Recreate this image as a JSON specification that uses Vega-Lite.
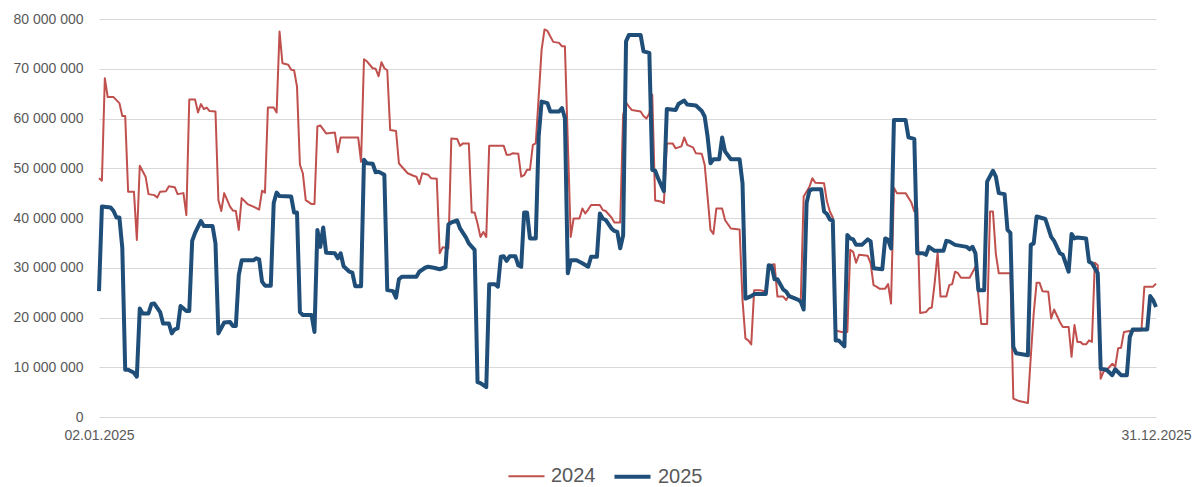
{
  "$schema": "https://vega.github.io/schema/vega-lite/v6.json",
  "autosize": {"type": "none"},
  "width": 1057,
  "height": 398,
  "padding": {"left": 99, "top": 19, "right": 37, "bottom": 70},
  "background": "white",
  "config": {
    "view": {"stroke": null},
    "font": "Liberation Sans",
    "axis": {"labelFont": "Liberation Sans", "labelColor": "#595959", "labelFontSize": 14},
    "legend": {"labelFont": "Liberation Sans"}
  },
  "data": {
    "values": [
      {"day":2,"year":"2024","value":48000000},{"day":3,"year":"2024","value":47500000},{"day":4,"year":"2024","value":68100000},{"day":5,"year":"2024","value":64300000},{"day":7,"year":"2024","value":64300000},{"day":9,"year":"2024","value":63100000},{"day":10,"year":"2024","value":60500000},{"day":11,"year":"2024","value":60500000},{"day":12,"year":"2024","value":45300000},{"day":14,"year":"2024","value":45300000},{"day":15,"year":"2024","value":35600000},{"day":16,"year":"2024","value":50500000},{"day":18,"year":"2024","value":48300000},{"day":19,"year":"2024","value":44800000},{"day":21,"year":"2024","value":44600000},{"day":22,"year":"2024","value":44100000},{"day":23,"year":"2024","value":45300000},{"day":25,"year":"2024","value":45400000},{"day":26,"year":"2024","value":46400000},{"day":28,"year":"2024","value":46200000},{"day":29,"year":"2024","value":44800000},{"day":31,"year":"2024","value":45000000},{"day":32,"year":"2024","value":40600000},{"day":33,"year":"2024","value":63800000},{"day":35,"year":"2024","value":63800000},{"day":36,"year":"2024","value":61200000},{"day":37,"year":"2024","value":62900000},{"day":38,"year":"2024","value":61900000},{"day":39,"year":"2024","value":62200000},{"day":40,"year":"2024","value":61500000},{"day":42,"year":"2024","value":61400000},{"day":43,"year":"2024","value":43600000},{"day":44,"year":"2024","value":41400000},{"day":45,"year":"2024","value":45000000},{"day":47,"year":"2024","value":42300000},{"day":48,"year":"2024","value":41500000},{"day":49,"year":"2024","value":41400000},{"day":50,"year":"2024","value":37600000},{"day":51,"year":"2024","value":44000000},{"day":53,"year":"2024","value":42800000},{"day":55,"year":"2024","value":42300000},{"day":57,"year":"2024","value":41700000},{"day":58,"year":"2024","value":45500000},{"day":59,"year":"2024","value":45100000},{"day":60,"year":"2024","value":62200000},{"day":62,"year":"2024","value":62200000},{"day":63,"year":"2024","value":61200000},{"day":64,"year":"2024","value":77500000},{"day":65,"year":"2024","value":71100000},{"day":67,"year":"2024","value":70800000},{"day":68,"year":"2024","value":69800000},{"day":69,"year":"2024","value":69700000},{"day":70,"year":"2024","value":66400000},{"day":71,"year":"2024","value":50700000},{"day":72,"year":"2024","value":49000000},{"day":73,"year":"2024","value":43600000},{"day":75,"year":"2024","value":42800000},{"day":76,"year":"2024","value":42800000},{"day":77,"year":"2024","value":58400000},{"day":78,"year":"2024","value":58600000},{"day":80,"year":"2024","value":57000000},{"day":83,"year":"2024","value":57200000},{"day":84,"year":"2024","value":53200000},{"day":85,"year":"2024","value":56200000},{"day":91,"year":"2024","value":56200000},{"day":92,"year":"2024","value":51300000},{"day":93,"year":"2024","value":71900000},{"day":94,"year":"2024","value":71500000},{"day":96,"year":"2024","value":70100000},{"day":97,"year":"2024","value":70000000},{"day":98,"year":"2024","value":68500000},{"day":99,"year":"2024","value":71300000},{"day":100,"year":"2024","value":70100000},{"day":101,"year":"2024","value":69700000},{"day":102,"year":"2024","value":57700000},{"day":104,"year":"2024","value":57500000},{"day":105,"year":"2024","value":51000000},{"day":106,"year":"2024","value":50300000},{"day":108,"year":"2024","value":49000000},{"day":110,"year":"2024","value":48500000},{"day":111,"year":"2024","value":48300000},{"day":112,"year":"2024","value":46800000},{"day":113,"year":"2024","value":49000000},{"day":115,"year":"2024","value":48700000},{"day":116,"year":"2024","value":48000000},{"day":118,"year":"2024","value":47900000},{"day":119,"year":"2024","value":32900000},{"day":120,"year":"2024","value":34100000},{"day":122,"year":"2024","value":33900000},{"day":123,"year":"2024","value":56000000},{"day":125,"year":"2024","value":55900000},{"day":126,"year":"2024","value":54500000},{"day":127,"year":"2024","value":55000000},{"day":129,"year":"2024","value":55000000},{"day":130,"year":"2024","value":41100000},{"day":131,"year":"2024","value":41100000},{"day":132,"year":"2024","value":38900000},{"day":133,"year":"2024","value":36200000},{"day":134,"year":"2024","value":37200000},{"day":135,"year":"2024","value":36200000},{"day":136,"year":"2024","value":54500000},{"day":141,"year":"2024","value":54500000},{"day":142,"year":"2024","value":52700000},{"day":143,"year":"2024","value":52700000},{"day":144,"year":"2024","value":53000000},{"day":146,"year":"2024","value":52900000},{"day":147,"year":"2024","value":48300000},{"day":148,"year":"2024","value":48600000},{"day":149,"year":"2024","value":49700000},{"day":150,"year":"2024","value":49700000},{"day":151,"year":"2024","value":54700000},{"day":152,"year":"2024","value":55000000},{"day":154,"year":"2024","value":73800000},{"day":155,"year":"2024","value":77900000},{"day":156,"year":"2024","value":77600000},{"day":158,"year":"2024","value":75400000},{"day":160,"year":"2024","value":75200000},{"day":161,"year":"2024","value":74500000},{"day":162,"year":"2024","value":74500000},{"day":164,"year":"2024","value":36200000},{"day":165,"year":"2024","value":39900000},{"day":167,"year":"2024","value":39900000},{"day":168,"year":"2024","value":41900000},{"day":169,"year":"2024","value":40900000},{"day":170,"year":"2024","value":41700000},{"day":171,"year":"2024","value":42600000},{"day":174,"year":"2024","value":42600000},{"day":175,"year":"2024","value":41600000},{"day":176,"year":"2024","value":41400000},{"day":178,"year":"2024","value":40100000},{"day":179,"year":"2024","value":39100000},{"day":181,"year":"2024","value":39100000},{"day":182,"year":"2024","value":60700000},{"day":183,"year":"2024","value":63200000},{"day":184,"year":"2024","value":62400000},{"day":185,"year":"2024","value":61700000},{"day":188,"year":"2024","value":61400000},{"day":189,"year":"2024","value":60500000},{"day":190,"year":"2024","value":60000000},{"day":191,"year":"2024","value":61000000},{"day":192,"year":"2024","value":64800000},{"day":193,"year":"2024","value":43500000},{"day":195,"year":"2024","value":43300000},{"day":196,"year":"2024","value":43000000},{"day":197,"year":"2024","value":55000000},{"day":199,"year":"2024","value":55000000},{"day":200,"year":"2024","value":54000000},{"day":202,"year":"2024","value":54400000},{"day":203,"year":"2024","value":56200000},{"day":204,"year":"2024","value":54700000},{"day":206,"year":"2024","value":54200000},{"day":207,"year":"2024","value":53000000},{"day":209,"year":"2024","value":52900000},{"day":210,"year":"2024","value":50700000},{"day":211,"year":"2024","value":44300000},{"day":212,"year":"2024","value":37600000},{"day":213,"year":"2024","value":36800000},{"day":214,"year":"2024","value":41900000},{"day":216,"year":"2024","value":41900000},{"day":217,"year":"2024","value":39600000},{"day":219,"year":"2024","value":37900000},{"day":222,"year":"2024","value":37700000},{"day":223,"year":"2024","value":23500000},{"day":224,"year":"2024","value":15800000},{"day":225,"year":"2024","value":15400000},{"day":226,"year":"2024","value":14600000},{"day":227,"year":"2024","value":25500000},{"day":229,"year":"2024","value":25500000},{"day":231,"year":"2024","value":25200000},{"day":232,"year":"2024","value":30500000},{"day":234,"year":"2024","value":30700000},{"day":235,"year":"2024","value":24200000},{"day":237,"year":"2024","value":24200000},{"day":238,"year":"2024","value":23500000},{"day":239,"year":"2024","value":24500000},{"day":241,"year":"2024","value":24000000},{"day":243,"year":"2024","value":23200000},{"day":244,"year":"2024","value":44300000},{"day":246,"year":"2024","value":46300000},{"day":247,"year":"2024","value":48000000},{"day":248,"year":"2024","value":47100000},{"day":251,"year":"2024","value":47000000},{"day":252,"year":"2024","value":43300000},{"day":253,"year":"2024","value":41300000},{"day":254,"year":"2024","value":40100000},{"day":255,"year":"2024","value":17400000},{"day":257,"year":"2024","value":17100000},{"day":259,"year":"2024","value":17100000},{"day":260,"year":"2024","value":33600000},{"day":261,"year":"2024","value":33200000},{"day":262,"year":"2024","value":31000000},{"day":263,"year":"2024","value":32600000},{"day":266,"year":"2024","value":32400000},{"day":267,"year":"2024","value":30900000},{"day":268,"year":"2024","value":26500000},{"day":269,"year":"2024","value":26200000},{"day":270,"year":"2024","value":25800000},{"day":272,"year":"2024","value":25800000},{"day":273,"year":"2024","value":26700000},{"day":274,"year":"2024","value":22800000},{"day":275,"year":"2024","value":46100000},{"day":276,"year":"2024","value":45000000},{"day":279,"year":"2024","value":45000000},{"day":281,"year":"2024","value":43100000},{"day":282,"year":"2024","value":41300000},{"day":283,"year":"2024","value":42000000},{"day":284,"year":"2024","value":20900000},{"day":286,"year":"2024","value":21100000},{"day":287,"year":"2024","value":21800000},{"day":288,"year":"2024","value":22000000},{"day":289,"year":"2024","value":27000000},{"day":290,"year":"2024","value":33000000},{"day":291,"year":"2024","value":24200000},{"day":293,"year":"2024","value":24200000},{"day":294,"year":"2024","value":26500000},{"day":295,"year":"2024","value":26700000},{"day":296,"year":"2024","value":29200000},{"day":297,"year":"2024","value":28900000},{"day":298,"year":"2024","value":28000000},{"day":301,"year":"2024","value":28000000},{"day":303,"year":"2024","value":30200000},{"day":305,"year":"2024","value":18700000},{"day":307,"year":"2024","value":18700000},{"day":308,"year":"2024","value":41300000},{"day":309,"year":"2024","value":41300000},{"day":310,"year":"2024","value":32800000},{"day":311,"year":"2024","value":28900000},{"day":315,"year":"2024","value":28900000},{"day":316,"year":"2024","value":3700000},{"day":318,"year":"2024","value":3200000},{"day":321,"year":"2024","value":2800000},{"day":322,"year":"2024","value":12100000},{"day":323,"year":"2024","value":20800000},{"day":324,"year":"2024","value":27000000},{"day":325,"year":"2024","value":27000000},{"day":326,"year":"2024","value":25300000},{"day":328,"year":"2024","value":25200000},{"day":329,"year":"2024","value":19800000},{"day":330,"year":"2024","value":21600000},{"day":332,"year":"2024","value":19100000},{"day":333,"year":"2024","value":18100000},{"day":335,"year":"2024","value":18100000},{"day":336,"year":"2024","value":12100000},{"day":337,"year":"2024","value":18500000},{"day":338,"year":"2024","value":15100000},{"day":339,"year":"2024","value":15100000},{"day":340,"year":"2024","value":14600000},{"day":341,"year":"2024","value":14600000},{"day":342,"year":"2024","value":15400000},{"day":343,"year":"2024","value":15100000},{"day":344,"year":"2024","value":31000000},{"day":345,"year":"2024","value":30500000},{"day":346,"year":"2024","value":7700000},{"day":347,"year":"2024","value":9100000},{"day":348,"year":"2024","value":9400000},{"day":350,"year":"2024","value":10700000},{"day":351,"year":"2024","value":10100000},{"day":352,"year":"2024","value":13800000},{"day":353,"year":"2024","value":13900000},{"day":354,"year":"2024","value":17100000},{"day":356,"year":"2024","value":17300000},{"day":360,"year":"2024","value":17400000},{"day":361,"year":"2024","value":26200000},{"day":364,"year":"2024","value":26200000},{"day":365,"year":"2024","value":26800000},
      {"day":2,"year":"2025","value":25300000},{"day":3,"year":"2025","value":42300000},{"day":6,"year":"2025","value":42100000},{"day":7,"year":"2025","value":41400000},{"day":8,"year":"2025","value":40100000},{"day":9,"year":"2025","value":40100000},{"day":10,"year":"2025","value":34000000},{"day":11,"year":"2025","value":9500000},{"day":12,"year":"2025","value":9500000},{"day":14,"year":"2025","value":8900000},{"day":15,"year":"2025","value":8100000},{"day":16,"year":"2025","value":21800000},{"day":17,"year":"2025","value":20800000},{"day":19,"year":"2025","value":20800000},{"day":20,"year":"2025","value":22700000},{"day":21,"year":"2025","value":22800000},{"day":23,"year":"2025","value":21100000},{"day":24,"year":"2025","value":18800000},{"day":26,"year":"2025","value":18800000},{"day":27,"year":"2025","value":16800000},{"day":28,"year":"2025","value":17600000},{"day":29,"year":"2025","value":17800000},{"day":30,"year":"2025","value":22300000},{"day":32,"year":"2025","value":21300000},{"day":33,"year":"2025","value":21300000},{"day":34,"year":"2025","value":35400000},{"day":35,"year":"2025","value":37000000},{"day":37,"year":"2025","value":39400000},{"day":38,"year":"2025","value":38400000},{"day":41,"year":"2025","value":38400000},{"day":42,"year":"2025","value":34900000},{"day":43,"year":"2025","value":16800000},{"day":45,"year":"2025","value":19000000},{"day":47,"year":"2025","value":19100000},{"day":48,"year":"2025","value":18300000},{"day":49,"year":"2025","value":18300000},{"day":50,"year":"2025","value":28500000},{"day":51,"year":"2025","value":31500000},{"day":55,"year":"2025","value":31500000},{"day":56,"year":"2025","value":31900000},{"day":57,"year":"2025","value":31700000},{"day":58,"year":"2025","value":27200000},{"day":59,"year":"2025","value":26400000},{"day":61,"year":"2025","value":26400000},{"day":62,"year":"2025","value":43000000},{"day":63,"year":"2025","value":45100000},{"day":64,"year":"2025","value":44400000},{"day":68,"year":"2025","value":44300000},{"day":69,"year":"2025","value":41100000},{"day":70,"year":"2025","value":41100000},{"day":71,"year":"2025","value":21100000},{"day":72,"year":"2025","value":20500000},{"day":75,"year":"2025","value":20500000},{"day":76,"year":"2025","value":17100000},{"day":77,"year":"2025","value":37600000},{"day":78,"year":"2025","value":34200000},{"day":79,"year":"2025","value":38100000},{"day":80,"year":"2025","value":33000000},{"day":83,"year":"2025","value":32900000},{"day":84,"year":"2025","value":31900000},{"day":85,"year":"2025","value":32900000},{"day":86,"year":"2025","value":30300000},{"day":88,"year":"2025","value":29200000},{"day":89,"year":"2025","value":29000000},{"day":90,"year":"2025","value":26300000},{"day":92,"year":"2025","value":26300000},{"day":93,"year":"2025","value":51700000},{"day":94,"year":"2025","value":51000000},{"day":96,"year":"2025","value":50900000},{"day":97,"year":"2025","value":49200000},{"day":98,"year":"2025","value":49300000},{"day":99,"year":"2025","value":49000000},{"day":100,"year":"2025","value":48700000},{"day":101,"year":"2025","value":25500000},{"day":103,"year":"2025","value":25300000},{"day":104,"year":"2025","value":24000000},{"day":105,"year":"2025","value":27700000},{"day":106,"year":"2025","value":28200000},{"day":111,"year":"2025","value":28200000},{"day":112,"year":"2025","value":29200000},{"day":114,"year":"2025","value":30000000},{"day":115,"year":"2025","value":30200000},{"day":117,"year":"2025","value":30000000},{"day":119,"year":"2025","value":29700000},{"day":121,"year":"2025","value":30100000},{"day":122,"year":"2025","value":38700000},{"day":123,"year":"2025","value":39100000},{"day":125,"year":"2025","value":39500000},{"day":126,"year":"2025","value":37900000},{"day":128,"year":"2025","value":36100000},{"day":129,"year":"2025","value":34900000},{"day":131,"year":"2025","value":33600000},{"day":132,"year":"2025","value":7000000},{"day":133,"year":"2025","value":6800000},{"day":134,"year":"2025","value":6400000},{"day":135,"year":"2025","value":6000000},{"day":136,"year":"2025","value":26700000},{"day":138,"year":"2025","value":26700000},{"day":139,"year":"2025","value":26200000},{"day":140,"year":"2025","value":32200000},{"day":141,"year":"2025","value":32300000},{"day":142,"year":"2025","value":31400000},{"day":143,"year":"2025","value":32300000},{"day":145,"year":"2025","value":32300000},{"day":146,"year":"2025","value":30500000},{"day":147,"year":"2025","value":30200000},{"day":148,"year":"2025","value":41100000},{"day":149,"year":"2025","value":41100000},{"day":150,"year":"2025","value":35900000},{"day":152,"year":"2025","value":35900000},{"day":153,"year":"2025","value":56400000},{"day":154,"year":"2025","value":63400000},{"day":156,"year":"2025","value":63100000},{"day":157,"year":"2025","value":61400000},{"day":160,"year":"2025","value":61400000},{"day":161,"year":"2025","value":62100000},{"day":162,"year":"2025","value":60100000},{"day":163,"year":"2025","value":28900000},{"day":164,"year":"2025","value":31500000},{"day":166,"year":"2025","value":31500000},{"day":168,"year":"2025","value":30900000},{"day":170,"year":"2025","value":30200000},{"day":171,"year":"2025","value":32200000},{"day":173,"year":"2025","value":32200000},{"day":174,"year":"2025","value":40900000},{"day":175,"year":"2025","value":39900000},{"day":176,"year":"2025","value":39600000},{"day":178,"year":"2025","value":37900000},{"day":179,"year":"2025","value":37400000},{"day":180,"year":"2025","value":37200000},{"day":181,"year":"2025","value":33900000},{"day":182,"year":"2025","value":36500000},{"day":183,"year":"2025","value":75500000},{"day":184,"year":"2025","value":76800000},{"day":188,"year":"2025","value":76800000},{"day":189,"year":"2025","value":73500000},{"day":191,"year":"2025","value":73200000},{"day":192,"year":"2025","value":49700000},{"day":193,"year":"2025","value":49500000},{"day":194,"year":"2025","value":48000000},{"day":196,"year":"2025","value":45400000},{"day":197,"year":"2025","value":61900000},{"day":200,"year":"2025","value":61700000},{"day":201,"year":"2025","value":62900000},{"day":203,"year":"2025","value":63600000},{"day":204,"year":"2025","value":62800000},{"day":207,"year":"2025","value":62600000},{"day":209,"year":"2025","value":61500000},{"day":210,"year":"2025","value":60400000},{"day":211,"year":"2025","value":56400000},{"day":212,"year":"2025","value":51000000},{"day":213,"year":"2025","value":51800000},{"day":215,"year":"2025","value":51800000},{"day":216,"year":"2025","value":56200000},{"day":217,"year":"2025","value":53400000},{"day":219,"year":"2025","value":51800000},{"day":222,"year":"2025","value":51800000},{"day":223,"year":"2025","value":47000000},{"day":224,"year":"2025","value":23800000},{"day":226,"year":"2025","value":24300000},{"day":227,"year":"2025","value":24700000},{"day":231,"year":"2025","value":24700000},{"day":232,"year":"2025","value":30500000},{"day":233,"year":"2025","value":30300000},{"day":234,"year":"2025","value":27700000},{"day":235,"year":"2025","value":27700000},{"day":237,"year":"2025","value":25600000},{"day":238,"year":"2025","value":25200000},{"day":239,"year":"2025","value":24300000},{"day":242,"year":"2025","value":23600000},{"day":243,"year":"2025","value":23200000},{"day":244,"year":"2025","value":21600000},{"day":245,"year":"2025","value":43000000},{"day":246,"year":"2025","value":45500000},{"day":247,"year":"2025","value":45800000},{"day":250,"year":"2025","value":45800000},{"day":251,"year":"2025","value":41300000},{"day":252,"year":"2025","value":40800000},{"day":253,"year":"2025","value":39700000},{"day":254,"year":"2025","value":39500000},{"day":255,"year":"2025","value":15400000},{"day":256,"year":"2025","value":15400000},{"day":258,"year":"2025","value":14200000},{"day":259,"year":"2025","value":36600000},{"day":260,"year":"2025","value":35900000},{"day":261,"year":"2025","value":35700000},{"day":262,"year":"2025","value":34600000},{"day":264,"year":"2025","value":34600000},{"day":266,"year":"2025","value":35700000},{"day":267,"year":"2025","value":35300000},{"day":268,"year":"2025","value":29900000},{"day":271,"year":"2025","value":29700000},{"day":272,"year":"2025","value":35900000},{"day":273,"year":"2025","value":35600000},{"day":274,"year":"2025","value":33900000},{"day":275,"year":"2025","value":59700000},{"day":279,"year":"2025","value":59700000},{"day":280,"year":"2025","value":56200000},{"day":282,"year":"2025","value":55900000},{"day":283,"year":"2025","value":32900000},{"day":285,"year":"2025","value":32900000},{"day":286,"year":"2025","value":32600000},{"day":287,"year":"2025","value":34200000},{"day":289,"year":"2025","value":33400000},{"day":292,"year":"2025","value":33400000},{"day":293,"year":"2025","value":35400000},{"day":294,"year":"2025","value":35300000},{"day":296,"year":"2025","value":34600000},{"day":298,"year":"2025","value":34400000},{"day":300,"year":"2025","value":34200000},{"day":301,"year":"2025","value":33700000},{"day":302,"year":"2025","value":34200000},{"day":303,"year":"2025","value":32900000},{"day":304,"year":"2025","value":25500000},{"day":306,"year":"2025","value":25500000},{"day":307,"year":"2025","value":47300000},{"day":309,"year":"2025","value":49500000},{"day":310,"year":"2025","value":48300000},{"day":311,"year":"2025","value":45000000},{"day":313,"year":"2025","value":44800000},{"day":314,"year":"2025","value":37600000},{"day":315,"year":"2025","value":37000000},{"day":316,"year":"2025","value":14100000},{"day":317,"year":"2025","value":12800000},{"day":321,"year":"2025","value":12400000},{"day":322,"year":"2025","value":34600000},{"day":323,"year":"2025","value":34900000},{"day":324,"year":"2025","value":40300000},{"day":327,"year":"2025","value":39800000},{"day":329,"year":"2025","value":36200000},{"day":330,"year":"2025","value":35400000},{"day":332,"year":"2025","value":32900000},{"day":333,"year":"2025","value":32600000},{"day":335,"year":"2025","value":29200000},{"day":336,"year":"2025","value":36800000},{"day":337,"year":"2025","value":35900000},{"day":338,"year":"2025","value":36100000},{"day":341,"year":"2025","value":35900000},{"day":342,"year":"2025","value":31200000},{"day":343,"year":"2025","value":30900000},{"day":345,"year":"2025","value":28900000},{"day":346,"year":"2025","value":9700000},{"day":348,"year":"2025","value":9500000},{"day":350,"year":"2025","value":8400000},{"day":351,"year":"2025","value":9600000},{"day":353,"year":"2025","value":8400000},{"day":355,"year":"2025","value":8400000},{"day":356,"year":"2025","value":16100000},{"day":357,"year":"2025","value":17600000},{"day":362,"year":"2025","value":17600000},{"day":363,"year":"2025","value":24300000},{"day":364,"year":"2025","value":23500000},{"day":365,"year":"2025","value":22100000}
    ]
  },
  "mark": {"type": "line", "strokeJoin": "round"},
  "encoding": {
    "x": {
      "field": "day",
      "type": "quantitative",
      "scale": {"domain": [2, 365], "nice": false, "zero": false},
      "axis": {
        "title": null,
        "values": [2, 365],
        "labelExpr": "datum.value === 2 ? '02.01.2025' : '31.12.2025'",
        "grid": false,
        "ticks": false,
        "domain": false,
        "labelPadding": 11,
        "labelOverlap": false,
        "labelFlush": false,
        "labelBound": false
      }
    },
    "y": {
      "field": "value",
      "type": "quantitative",
      "scale": {"domain": [0, 80000000], "nice": false},
      "axis": {
        "title": null,
        "values": [0, 10000000, 20000000, 30000000, 40000000, 50000000, 60000000, 70000000, 80000000],
        "labelExpr": "replace(format(datum.value, ','), regexp(',', 'g'), ' ')",
        "grid": true,
        "gridColor": "#d9d9d9",
        "gridWidth": 1,
        "ticks": false,
        "domain": false,
        "labelPadding": 16
      }
    },
    "color": {
      "field": "year",
      "type": "nominal",
      "scale": {"domain": ["2024", "2025"], "range": ["#C0504D", "#1F4E79"]},
      "legend": {
        "title": null,
        "orient": "none",
        "legendX": 408,
        "legendY": 437,
        "direction": "horizontal",
        "symbolType": "stroke",
        "symbolSize": 1300,
        "symbolStrokeWidth": 3,
        "symbolOpacity": 1,
        "labelFontSize": 20,
        "labelColor": "#595959",
        "labelOffset": 5,
        "labelLimit": 200,
        "columnPadding": 10,
        "encode": {
          "symbols": {"update": {"strokeWidth": {"signal": "datum.value === '2024' ? 2 : 4"}, "opacity": {"value": 1}}}
        }
      }
    },
    "strokeWidth": {
      "field": "year",
      "type": "ordinal",
      "scale": {"domain": ["2024", "2025"], "range": [2, 4]},
      "legend": null
    }
  }
}
